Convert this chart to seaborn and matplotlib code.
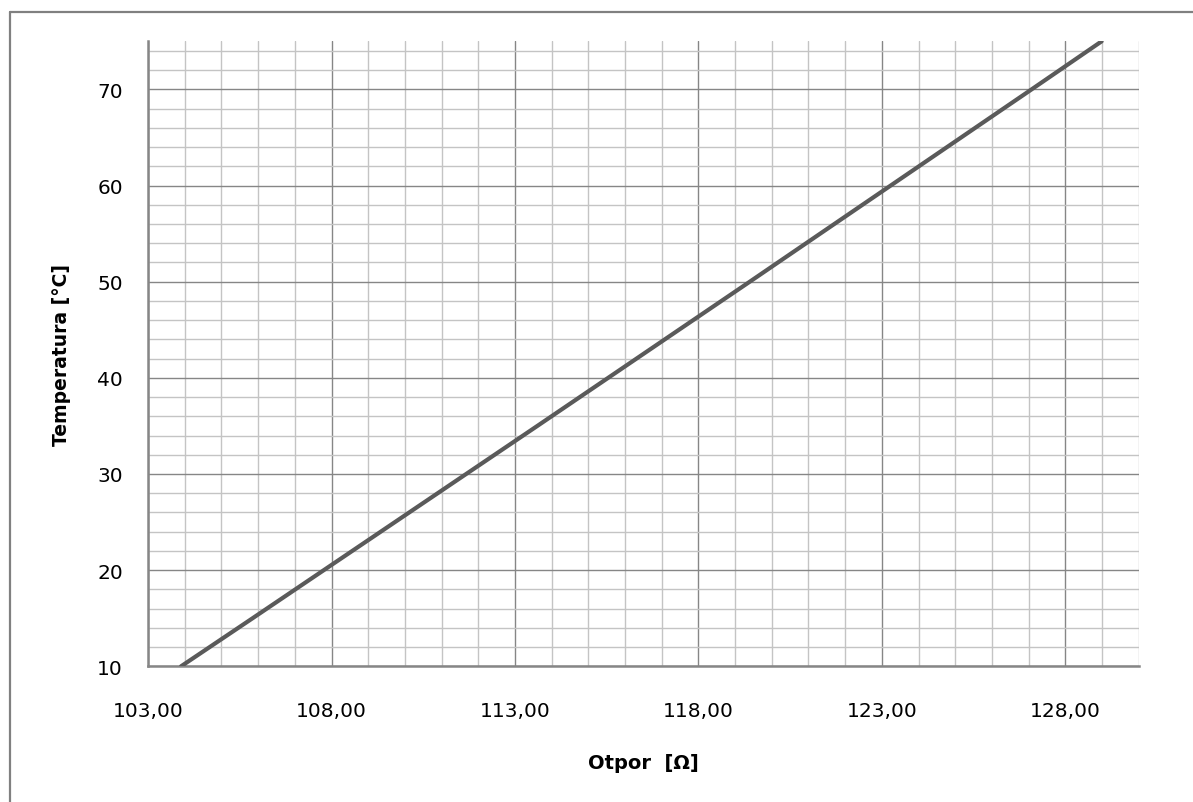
import numpy as np
import pandas as pd
import seaborn as sns
import matplotlib.pyplot as plt
from matplotlib.ticker import MultipleLocator, FixedLocator, FuncFormatter
from matplotlib.lines import Line2D

# otpor Pt100 senzora [Ω] i temperatura [°C]
otpor = [103.90, 105.85, 107.79, 109.73, 111.67, 113.61, 115.54,
         117.47, 119.40, 121.32, 123.24, 125.16, 127.08, 128.99]
temperatura = [10, 15, 20, 25, 30, 35, 40, 45, 50, 55, 60, 65, 70, 75]

x_ticks = [103, 108, 113, 118, 123, 128]
y_ticks = [10, 20, 30, 40, 50, 60, 70]

df = pd.DataFrame({'otpor': otpor, 'temperatura': temperatura})

sns.set_theme(style='white')
plt.rcParams['font.family'] = ['DejaVu Sans']

fig = plt.figure(figsize=(11.93, 8.03), dpi=100)
ax = fig.add_axes([0.1241, 0.169, 0.9545 - 0.1241, 0.9473 - 0.169])

sns.lineplot(data=df, x='otpor', y='temperatura', color='#5a5a5a',
             linewidth=3.0, ax=ax, zorder=5)

ax.set_xlim(103, 130)
ax.set_ylim(10, 75)

ax.xaxis.set_major_locator(FixedLocator(x_ticks))
ax.xaxis.set_minor_locator(MultipleLocator(1))
ax.yaxis.set_major_locator(FixedLocator(y_ticks))
ax.yaxis.set_minor_locator(MultipleLocator(2))
ax.xaxis.set_major_formatter(FuncFormatter(lambda v, p: f'{v:.2f}'.replace('.', ',')))

ax.grid(which='minor', color='#c4c4c4', linewidth=1.0)
ax.grid(which='major', color='#868686', linewidth=1.0)
ax.set_axisbelow(True)

for s in ['top', 'right']:
    ax.spines[s].set_visible(False)
for s in ['left', 'bottom']:
    ax.spines[s].set_color('#868686')
    ax.spines[s].set_linewidth(1.8)

ax.tick_params(axis='x', which='both', length=0, pad=25, labelsize=14.5, labelcolor='black')
ax.tick_params(axis='y', which='both', length=0, pad=18, labelsize=14.5, labelcolor='black')

ax.set_xlabel('Otpor  [Ω]', fontsize=14, fontweight='bold', color='black')
ax.set_ylabel('Temperatura [°C]', fontsize=13.5, fontweight='bold', color='black')
ax.xaxis.set_label_coords(0.5, -0.1387)
ax.yaxis.set_label_coords(-0.0775, 0.5)

# okvir grafikona (vidljivi su samo gornji i lijevi rub)
fig.add_artist(Line2D([0.0084, 1.0], [0.9834, 0.9834], transform=fig.transFigure,
                      color='#808080', linewidth=1.6))
fig.add_artist(Line2D([0.0084, 0.0084], [0.0, 0.9834], transform=fig.transFigure,
                      color='#808080', linewidth=1.6))

plt.savefig('out.png', dpi=100)
